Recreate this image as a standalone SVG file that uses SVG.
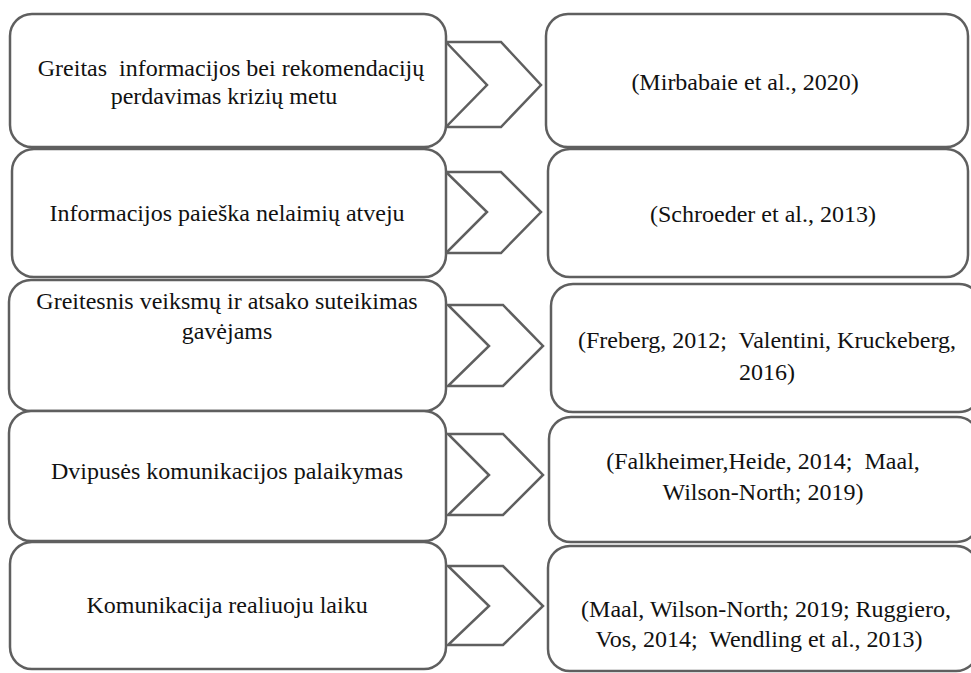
<svg xmlns="http://www.w3.org/2000/svg" width="971" height="673" viewBox="0 0 971 673">
<style>
.box{fill:#fff;stroke:#5f5f5f;stroke-width:2.5}
.chev{fill:#fff;stroke:#5f5f5f;stroke-width:2.5;stroke-linejoin:miter}
text{font-family:"Liberation Serif","Times New Roman",serif;font-size:24px;fill:#111;text-anchor:middle;white-space:pre}
</style>
<rect width="971" height="673" fill="#fff"/>
<g id="connectors">
<polygon class="chev" points="446,42 501,42 541,85 501,127 446,127 487,85"/>
<polygon class="chev" points="446,172 501,172 541,212 501,253 446,253 487,212"/>
<polygon class="chev" points="448,305 503,305 543,346 503,386 448,386 489,346"/>
<polygon class="chev" points="448,434 503,434 543,475 503,515 448,515 489,475"/>
<polygon class="chev" points="448,566 503,566 543,606 503,645 448,645 489,606"/>
</g>
<g id="left1"><rect class="box" x="10" y="14" width="436" height="133" rx="22"/>
<text x="231" y="76">Greitas  informacijos bei rekomendacijų</text><text x="224" y="104">perdavimas krizių metu</text></g>
<g id="right1"><rect class="box" x="546" y="14" width="422" height="133" rx="22"/>
<text x="745" y="90">(Mirbabaie et al., 2020)</text></g>
<g id="left2"><rect class="box" x="12" y="149" width="434" height="128" rx="22"/>
<text x="227" y="221">Informacijos paieška nelaimių atveju</text></g>
<g id="right2"><rect class="box" x="548" y="149" width="420" height="128" rx="22"/>
<text x="763" y="222">(Schroeder et al., 2013)</text></g>
<g id="left3"><rect class="box" x="9" y="280" width="437" height="131" rx="22"/>
<text x="227" y="309">Greitesnis veiksmų ir atsako suteikimas</text><text x="227" y="339">gavėjams</text></g>
<g id="right3"><rect class="box" x="551" y="284" width="430" height="128" rx="22"/>
<text x="767" y="348">(Freberg, 2012;  Valentini, Kruckeberg,</text><text x="767" y="380">2016)</text></g>
<g id="left4"><rect class="box" x="9" y="411" width="437" height="130" rx="22"/>
<text x="227" y="479">Dvipusės komunikacijos palaikymas</text></g>
<g id="right4"><rect class="box" x="549" y="417" width="430" height="125" rx="22"/>
<text x="763" y="469">(Falkheimer,Heide, 2014;  Maal,</text><text x="763" y="500">Wilson-North; 2019)</text></g>
<g id="left5"><rect class="box" x="10" y="542" width="436" height="127" rx="22"/>
<text x="227" y="613">Komunikacija realiuoju laiku</text></g>
<g id="right5"><rect class="box" x="548" y="546" width="430" height="125" rx="22"/>
<text x="766" y="617">(Maal, Wilson-North; 2019; Ruggiero,</text><text x="759" y="647">Vos, 2014;  Wendling et al., 2013)</text></g>
</svg>
